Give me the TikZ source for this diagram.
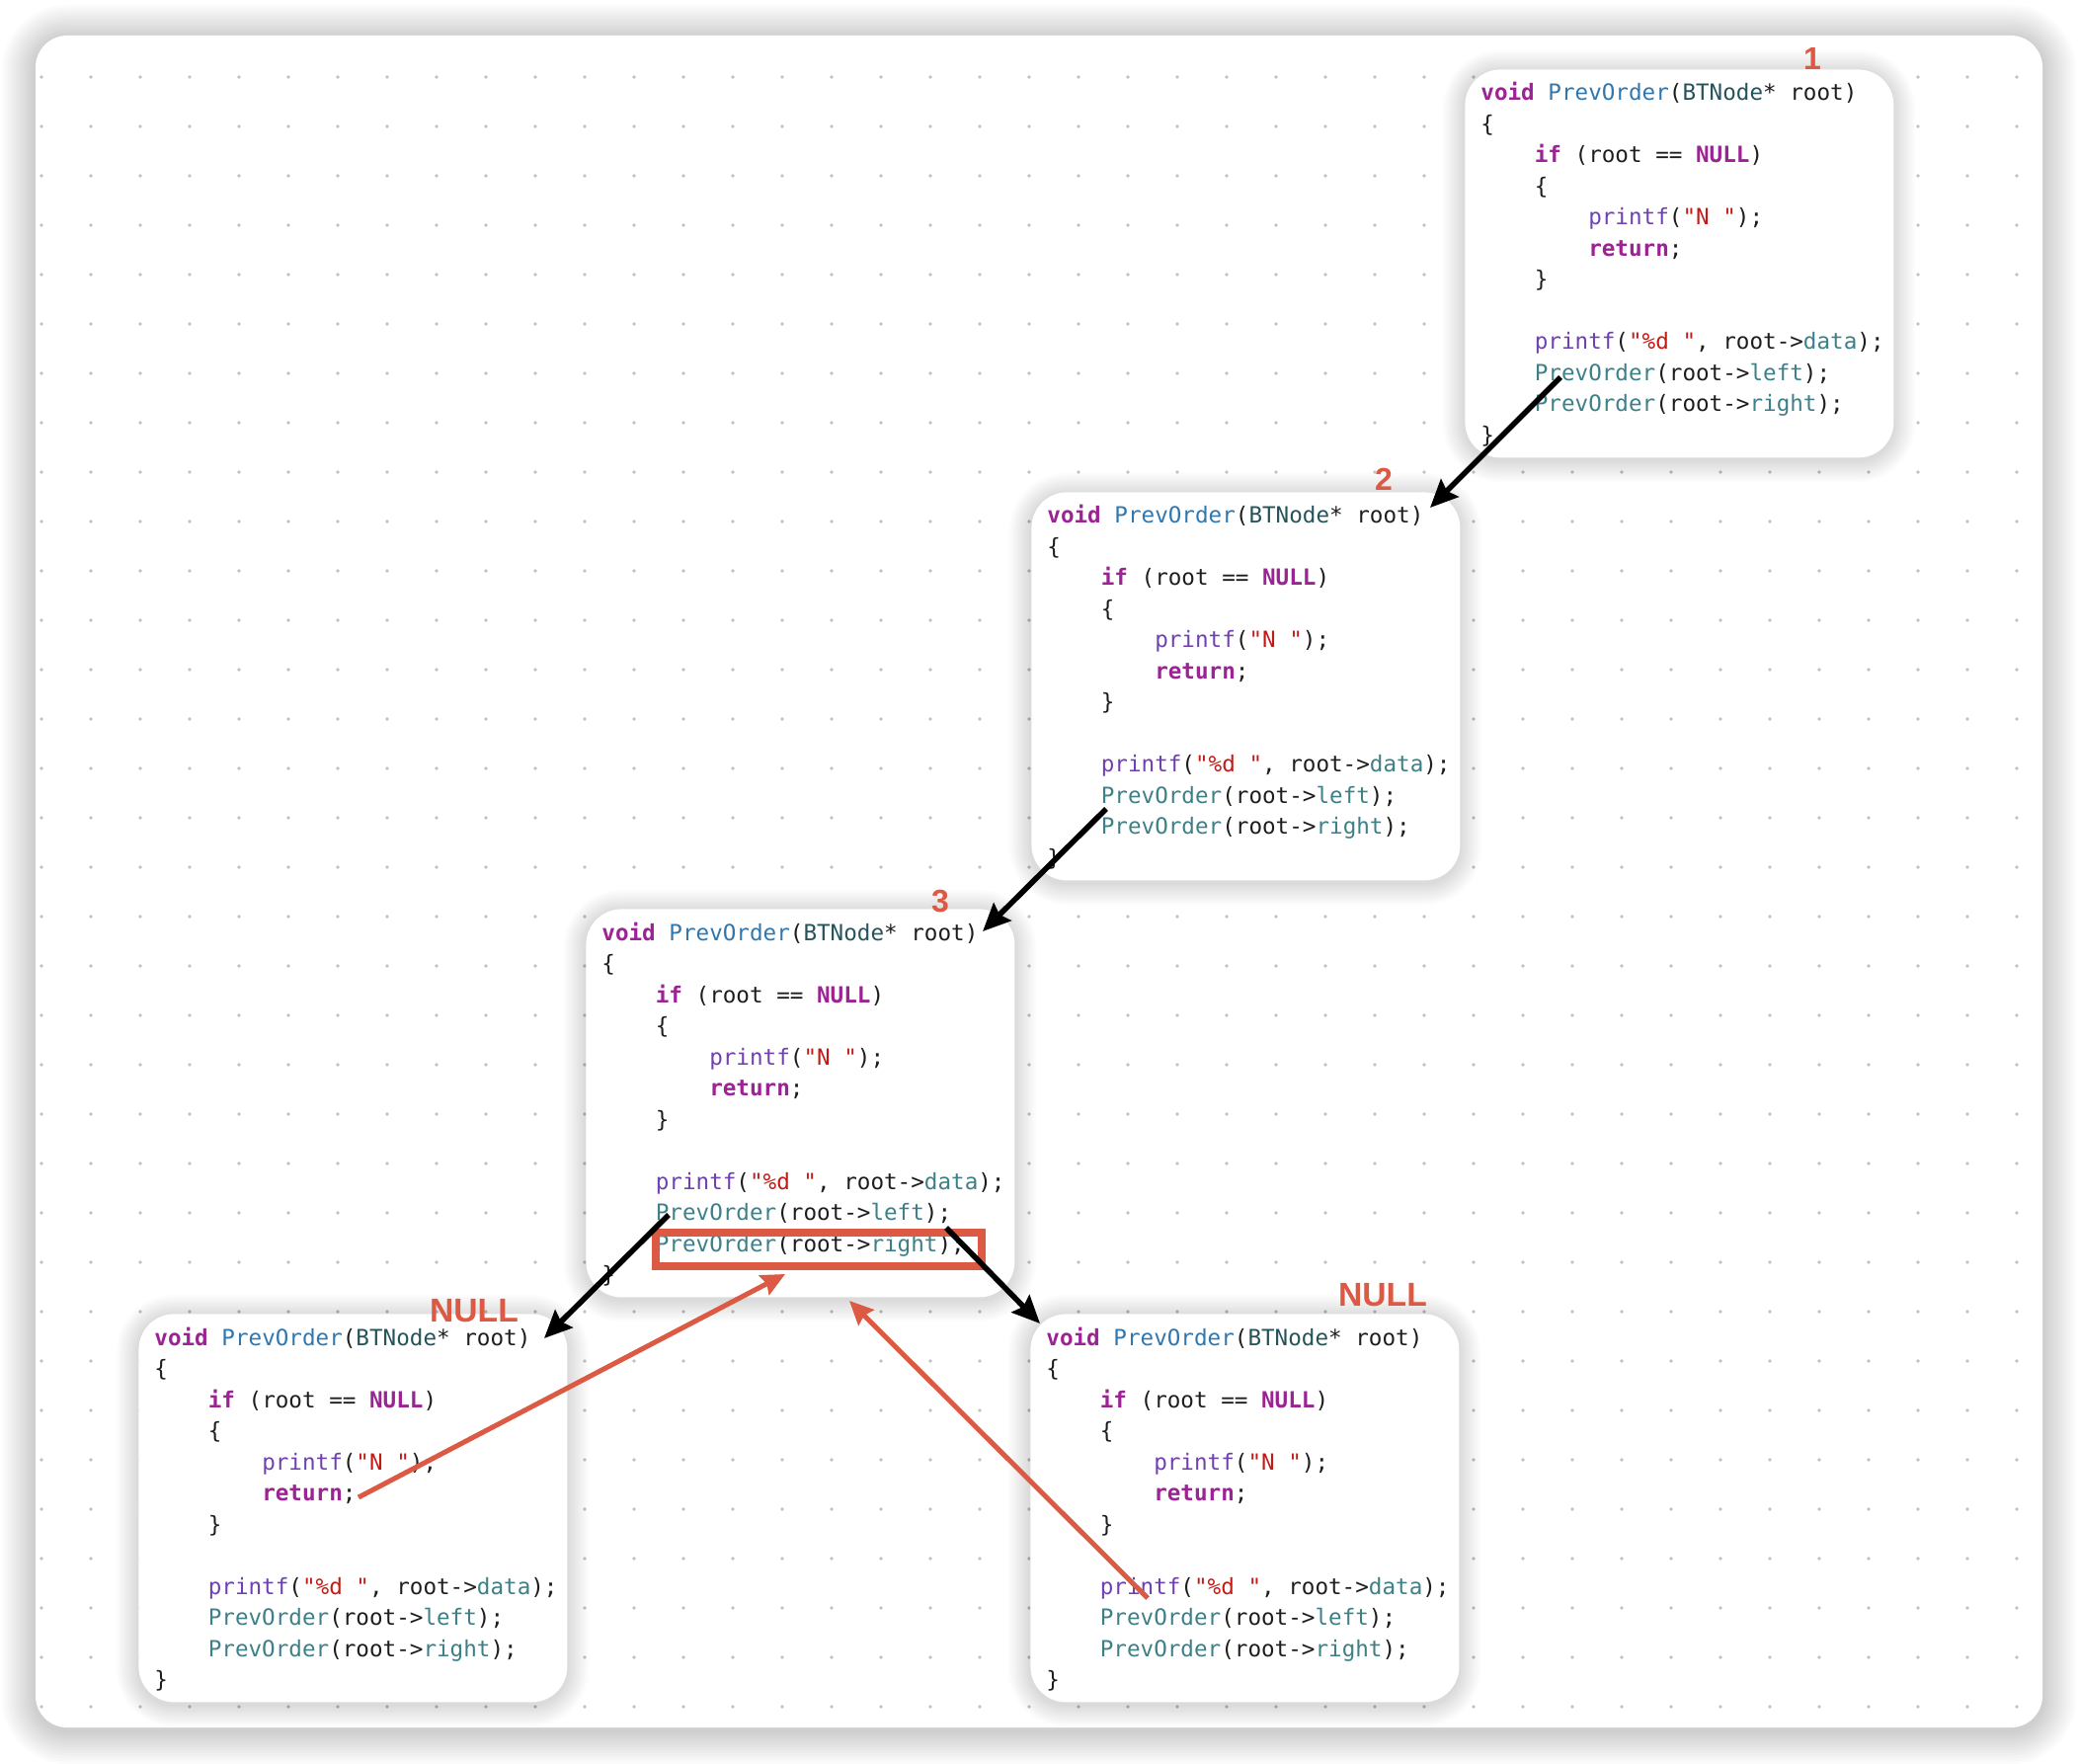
\documentclass[tikz,border=0pt]{standalone}
\usepackage{fontspec}
\setmonofont{DejaVu Sans Mono}
\setsansfont{Liberation Sans}
\usetikzlibrary{arrows.meta,calc}
\definecolor{kwc}{HTML}{9B2393}
\definecolor{declc}{HTML}{2F77AE}
\definecolor{tyc}{HTML}{24545A}
\definecolor{pfc}{HTML}{7040B0}
\definecolor{pcc}{HTML}{3E8087}
\definecolor{strc}{HTML}{C41A16}
\definecolor{txtc}{HTML}{1D1D1D}
\definecolor{annc}{HTML}{DC5944}
\definecolor{dotc}{HTML}{C2C2C2}
\newcommand\kw[1]{\textcolor{kwc}{\bfseries #1}}
\newcommand\dcl[1]{\textcolor{declc}{#1}}
\newcommand\ty[1]{\textcolor{tyc}{#1}}
\newcommand\pf[1]{\textcolor{pfc}{#1}}
\newcommand\pc[1]{\textcolor{pcc}{#1}}
\newcommand\str[1]{\textcolor{strc}{#1}}
\newcommand\IND{\phantom{xxxx}}
\newcommand\codefont{\ttfamily\fontsize{11.3pt}{15.75pt}\selectfont}
\newcommand\PrevCode{\vtop{\baselineskip=15.75pt\lineskip=0pt\lineskiplimit=-100pt
\hbox{\kw{void} \dcl{PrevOrder}(\ty{BTNode}* root)}
\hbox{\{}
\hbox{\IND\kw{if} (root == \kw{NULL})}
\hbox{\IND\{}
\hbox{\IND\IND\pf{printf}(\str{"N "});}
\hbox{\IND\IND\kw{return};}
\hbox{\IND\}}
\hbox{}
\hbox{\IND\pf{printf}(\str{"\%d "}, root->\pc{data});}
\hbox{\IND\pc{PrevOrder}(root->\pc{left});}
\hbox{\IND\pc{PrevOrder}(root->\pc{right});}
\hbox{\}}}}
% soft shadow: #1,#2 top-left px; #3,#4 bottom-right px; #5 corner radius px; #6 spread px; #7 layer opacity; #8 y offset px
\newcommand\softshadow[8]{%
  \foreach \k in {1,...,12}{%
    \pgfmathsetmacro\dd{#6*\k/12}%
    \pgfmathsetmacro\rr{(#5+\dd)*0.5}%
    \fill[black, fill opacity=#7, rounded corners=\rr pt] (#1-\dd,#2-\dd+#8) rectangle (#3+\dd,#4+\dd+#8);
  }}
\begin{document}
\begin{tikzpicture}[x=0.5pt,y=-0.5pt,
  canvas/.style={fill=white, draw=none, rounded corners=16pt},
  codebox/.style={fill=white, draw=none, rounded corners=18pt, inner sep=0pt,
    minimum width=217pt, minimum height=196.5pt, anchor=north west},
  codetext/.style={anchor=base west, inner sep=0pt, font=\codefont, text=txtc},
  blk/.style={draw=black, line width=2.8pt, -{Stealth[length=14pt, width=12.5pt, inset=2pt]}},
  redarr/.style={draw=annc, line width=2.5pt, -{Stealth[length=12pt, width=11pt, inset=1.5pt]}},
  hlbox/.style={draw=annc, line width=4pt, fill=none, inner sep=0pt, anchor=north west,
    minimum width=165pt, minimum height=17pt},
  lbl/.style={inner sep=0pt, text=annc, font=\sffamily\bfseries\fontsize{16pt}{16pt}\selectfont},
  nulllbl/.style={inner sep=0pt, text=annc, font=\sffamily\bfseries\fontsize{16.8pt}{16.8pt}\selectfont}]
\useasboundingbox (0,0) rectangle (2104,1786);
\fill[white] (0,0) rectangle (2104,1786);
% canvas with its shadow
\softshadow{36}{36}{2068}{1749}{32}{34}{0.016}{3}
\path[canvas] (36,36) rectangle (2068,1749);
\foreach \i in {0,...,40}{
  \foreach \j in {0,...,33}{
    \fill[dotc] (42+50*\i,78+50*\j) circle (0.9pt);
  }
}
% box shadows
\softshadow{1483}{70}{1917}{463}{36}{22}{0.013}{3}
\softshadow{1044}{498}{1478}{891}{36}{22}{0.013}{3}
\softshadow{593}{920}{1027}{1313}{36}{22}{0.013}{3}
\softshadow{140}{1330}{574}{1723}{36}{22}{0.013}{3}
\softshadow{1043}{1330}{1477}{1723}{36}{22}{0.013}{3}
% boxes
\node[codebox] (b1) at (1483,70) {};
\node[codebox] (b2) at (1044,498) {};
\node[codebox] (b3) at (593,920) {};
\node[codebox] (b5) at (140,1330) {};
\node[codebox] (b6) at (1043,1330) {};
% code
\node[codetext] (t1) at ($(b1.north west)+(16,32)$) {\PrevCode};
\node[codetext] (t2) at ($(b2.north west)+(16,32)$) {\PrevCode};
\node[codetext] (t3) at ($(b3.north west)+(16,32)$) {\PrevCode};
\node[codetext] (t5) at ($(b5.north west)+(16,32)$) {\PrevCode};
\node[codetext] (t6) at ($(b6.north west)+(16,32)$) {\PrevCode};
% highlight
\node[hlbox] (hl) at ($(b3.north west)+(67,324)$) {};
% black call arrows
\coordinate (s1) at ($(b1.north west)+(97,312)$);
\coordinate (e1) at ($(b2.north west)+(404,16)$);
\coordinate (s2) at ($(b2.north west)+(76,321)$);
\coordinate (e2) at ($(b3.north west)+(402,23)$);
\coordinate (s3) at ($(b3.north west)+(84,310)$);
\coordinate (e3) at ($(b5.north west)+(411,25)$);
\coordinate (s4) at ($(b3.north west)+(365,323)$);
\coordinate (e4) at ($(b6.north west)+(10,10)$);
\draw[blk] (s1) -- (e1);
\draw[blk] (s2) -- (e2);
\draw[blk] (s3) -- (e3);
\draw[blk] (s4) -- (e4);
% red return arrows
\coordinate (r1s) at ($(b5.north west)+(223,186)$);
\coordinate (r1e) at ($(hl.south west)+(135,4)$);
\coordinate (r2s) at ($(b6.north west)+(119,288)$);
\coordinate (r2e) at ($(b3.north west)+(267,397)$);
\draw[redarr] (r1s) -- (r1e);
\draw[redarr] (r2s) -- (r2e);
% labels
\node[lbl] (n1) at (1835,59) {1};
\node[lbl] (n2) at (1401,485) {2};
\node[lbl] (n3) at (952,913) {3};
\node[nulllbl] (nl) at (480,1327) {NULL};
\node[nulllbl] (nr) at (1400,1311) {NULL};
\end{tikzpicture}
\end{document}
